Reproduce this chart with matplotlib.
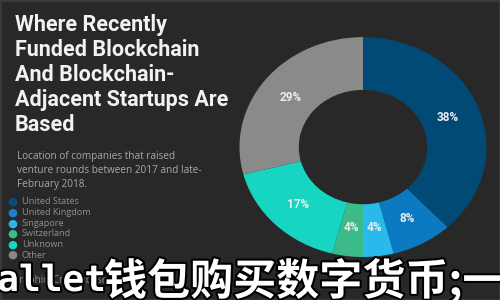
import matplotlib.pyplot as plt
import matplotlib.patheffects as pe
from matplotlib.patches import Rectangle

BG = "#282828"

countries = ["United States", "United Kingdom", "Singapore", "Switzerland", "Unknown", "Other"]
shares = [38, 8, 4, 4, 17, 29]
colors = ["#004a75", "#0b7ac2", "#29b9ea", "#3cbb8a", "#16d5c1", "#8a8a8a"]
legend_colors = ["#0a4d7a", "#1a80cf", "#2ab8e8", "#3cbc8c", "#1ad6c4", "#888888"]

title_lines = ["Where Recently", "Funded Blockchain", "And Blockchain-",
               "Adjacent Startups Are", "Based"]
subtitle_lines = ["Location of companies that raised",
                  "venture rounds between 2017 and late-",
                  "February 2018."]
source = "Graphic: Crunchbase News"
overlay_left = "TPWallet"
overlay_right = "钱包购买数字货币;一步步指南"


def main():
    fig = plt.figure(figsize=(5, 3), dpi=100, facecolor=BG)
    fig.patches.append(Rectangle((0, 0), 1, 1, transform=fig.transFigure,
                                 fill=False, edgecolor="#3a3a3a", linewidth=2))

    # donut (slightly stretched horizontally like the source image)
    ax = fig.add_axes([0.479, 0.1433, 0.494, 0.733])
    ax.set_facecolor(BG)
    wedges, texts, autotexts = ax.pie(
        shares, colors=colors, startangle=90, counterclock=False,
        radius=1, wedgeprops=dict(width=0.48, linewidth=0),
        autopct="%d%%", pctdistance=0.74,
        textprops=dict(color="#eeeeee", fontsize=8.5, family="Roboto"))
    for t in autotexts:
        t.set_fontweight("bold")
    ax.set_xlim(-1, 1)
    ax.set_ylim(-1, 1)
    ax.set_aspect("auto")
    ax.axis("off")

    # title block
    for i, line in enumerate(title_lines):
        fig.text(15 / 500, 1 - (25 + i * 25) / 300, line, color="#f2f2f2",
                 fontsize=15.5, fontweight="bold", family="Roboto", va="center")
    for i, line in enumerate(subtitle_lines):
        fig.text(17 / 500, 1 - (157 + i * 13.5) / 300, line, color="#a8a8a8",
                 fontsize=7.2, family="Open Sans", va="center")

    # legend
    for i, (name, c) in enumerate(zip(countries, legend_colors)):
        y = 1 - (202 + i * 10.6) / 300
        fig.text(12 / 500, y, "●", color=c, fontsize=8.2, va="center", ha="center")
        fig.text(22 / 500, y, name, color="#8f8f8f", fontsize=6.6,
                 family="Open Sans", va="center")

    fig.text(12 / 500, 1 - 281 / 300, source, color="#8f8f8f", fontsize=7,
             family="Open Sans", va="center")

    # overlay caption
    stroke = [pe.withStroke(linewidth=3, foreground="black")]
    fig.text(106 / 500, 1 - 281 / 300, overlay_left, color="white", fontsize=26,
             fontweight="bold", family=["DejaVu Sans Mono", "Noto Sans CJK SC"],
             ha="right", va="center", path_effects=stroke)
    fig.text(104 / 500, 1 - 281 / 300, overlay_right, color="white", fontsize=31,
             fontweight="bold", family=["Noto Sans CJK SC", "DejaVu Sans"],
             ha="left", va="center", path_effects=stroke)

    fig.savefig("out.png", dpi=100, facecolor=BG)


if __name__ == "__main__":
    main()
